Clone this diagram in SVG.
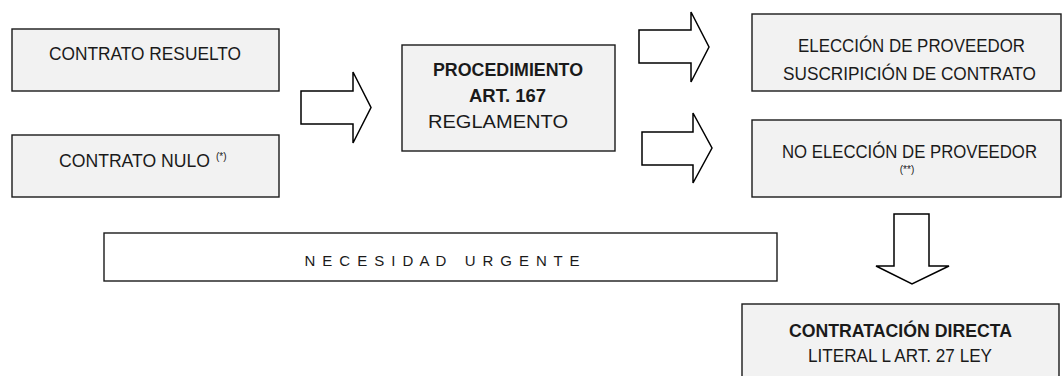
<svg xmlns="http://www.w3.org/2000/svg" width="1062" height="376" viewBox="0 0 1062 376">
<style>
.box{fill:#f2f2f2;stroke:#1a1a1a;stroke-width:1.4}
.plain{fill:#ffffff;stroke:#1a1a1a;stroke-width:1.4}
.arrow{fill:#ffffff;stroke:#000000;stroke-width:1.5;stroke-linejoin:miter}
text{font-family:"Liberation Sans",Arial,sans-serif;font-size:18px;fill:#1a1a1a;text-anchor:middle}
.b{font-weight:bold}
.sup{font-size:10px}
.sm{font-size:10px}
.sp{font-size:15px}
</style>
<rect width="1062" height="376" fill="#ffffff"/>
<g id="contrato-resuelto">
<rect class="box" x="12" y="29" width="267" height="62"/>
<text x="145" y="60" textLength="192" lengthAdjust="spacingAndGlyphs">CONTRATO RESUELTO</text>
</g>
<g id="contrato-nulo">
<rect class="box" x="12" y="135" width="267" height="62"/>
<text x="59" y="167" style="text-anchor:start"><tspan textLength="151" lengthAdjust="spacingAndGlyphs">CONTRATO NULO</tspan><tspan class="sup" x="216" y="160">(*)</tspan></text>
</g>
<g id="procedimiento">
<rect class="box" x="402" y="45" width="213" height="106"/>
<text class="b" x="508" y="76" textLength="150" lengthAdjust="spacingAndGlyphs">PROCEDIMIENTO</text>
<text class="b" x="507.5" y="102" textLength="77" lengthAdjust="spacingAndGlyphs">ART. 167</text>
<text x="498" y="128" textLength="140" lengthAdjust="spacingAndGlyphs">REGLAMENTO</text>
</g>
<g id="eleccion">
<rect class="box" x="752" y="14" width="309" height="77"/>
<text x="911.5" y="52" textLength="227" lengthAdjust="spacingAndGlyphs">ELECCIÓN DE PROVEEDOR</text>
<text x="909.5" y="80" textLength="253" lengthAdjust="spacingAndGlyphs">SUSCRIPICIÓN DE CONTRATO</text>
</g>
<g id="no-eleccion">
<rect class="box" x="752" y="120" width="309" height="77"/>
<text x="909.5" y="158" textLength="255" lengthAdjust="spacingAndGlyphs">NO ELECCIÓN DE PROVEEDOR</text>
<text class="sm" x="907" y="173">(**)</text>
</g>
<g id="necesidad">
<rect class="plain" x="104" y="233" width="673" height="48"/>
<text class="sp" x="442" y="266" xml:space="preserve" textLength="275" lengthAdjust="spacing">N E C E S I D A D   U R G E N T E</text>
</g>
<g id="contratacion-directa">
<rect class="box" x="742" y="304" width="317" height="80"/>
<text class="b" x="900.5" y="337" textLength="223" lengthAdjust="spacingAndGlyphs">CONTRATACIÓN DIRECTA</text>
<text x="900" y="362" textLength="184" lengthAdjust="spacingAndGlyphs">LITERAL L ART. 27 LEY</text>
</g>
<g id="connectors">
<path class="arrow" d="M301,91 H353 V72 L371,107.5 L353,143 V124 H301 Z"/>
<path class="arrow" d="M639,30 H691 V12 L709,47 L691,82 V63 H639 Z"/>
<path class="arrow" d="M642,132 H693 V113 L712,148 L693,183 V165 H642 Z"/>
<path class="arrow" d="M894,214 H929 V266 H949 L912,284 L876,266 H894 Z"/>
</g>
</svg>
